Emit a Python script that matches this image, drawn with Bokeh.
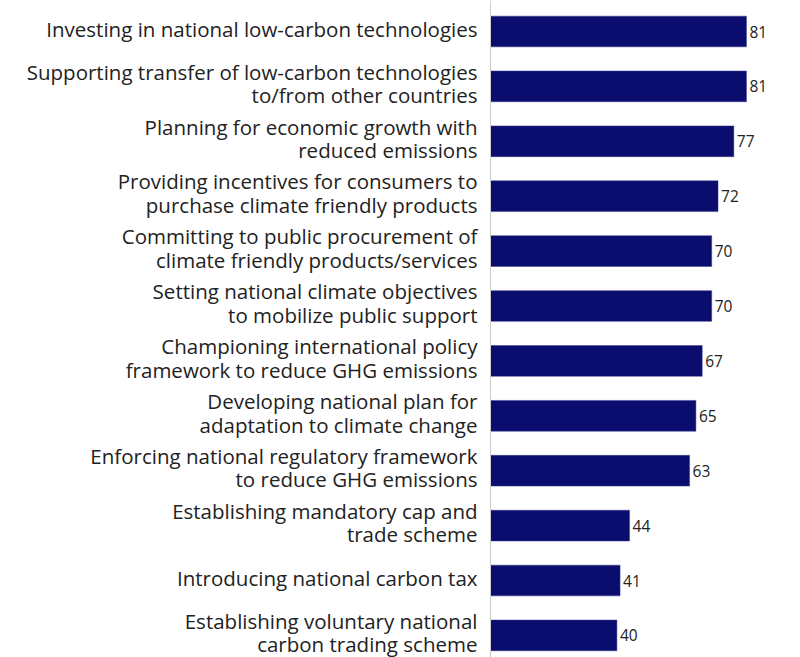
from bokeh.plotting import figure
from bokeh.models import Range1d, Span, ColumnDataSource
from bokeh.core.properties import value
from bokeh.embed import file_html
from bokeh.resources import INLINE

categories = [
    "Investing in national low-carbon technologies",
    "Supporting transfer of low-carbon technologies\nto/from other countries",
    "Planning for economic growth with\nreduced emissions",
    "Providing incentives for consumers to\npurchase climate friendly products",
    "Committing to public procurement of\nclimate friendly products/services",
    "Setting national climate objectives\nto mobilize public support",
    "Championing international policy\nframework to reduce GHG emissions",
    "Developing national plan for\nadaptation to climate change",
    "Enforcing national regulatory framework\nto reduce GHG emissions",
    "Establishing mandatory cap and\ntrade scheme",
    "Introducing national carbon tax",
    "Establishing voluntary national\ncarbon trading scheme",
]
values = [81, 81, 77, 72, 70, 70, 67, 65, 63, 44, 41, 40]

positions = list(range(len(categories)))
src = ColumnDataSource(dict(y=positions, v=values, cat=categories,
                            lbl=[str(v) for v in values], zero=[0] * len(values)))

W, H = 792, 657
px_per_unit = 3.16
band = 54.9
x0 = -490 / px_per_unit
x1 = (W - 490) / px_per_unit
ytop = -31 / band
ybot = (H - 31) / band

p = figure(width=W, height=H, output_backend="svg", toolbar_location=None,
           x_range=Range1d(x0, x1), y_range=Range1d(ybot, ytop),
           min_border=0, outline_line_color=None)
p.axis.visible = False
p.grid.visible = False
p.background_fill_color = "white"
p.border_fill_color = "white"

p.add_layout(Span(location=0, dimension="height", line_color="#cccccc", line_width=1))

p.hbar(y="y", left=0, right="v", height=0.56, source=src,
       fill_color="#0a0c6e", line_color="#3a3c90", line_width=0.5)

p.text(x="zero", y="y", text="cat", source=src, x_offset=-13, y_offset=-3,
       text_align="right", text_baseline="middle",
       text_font=value("Open Sans"), text_font_size="20.5px",
       text_color="#222222", text_line_height=0.84)

p.text(x="v", y="y", text="lbl", source=src, x_offset=3,
       text_align="left", text_baseline="middle",
       text_font=value("Open Sans"), text_font_size="15.5px",
       text_color="#222222")

open("out.html", "w").write(file_html(p, INLINE))
